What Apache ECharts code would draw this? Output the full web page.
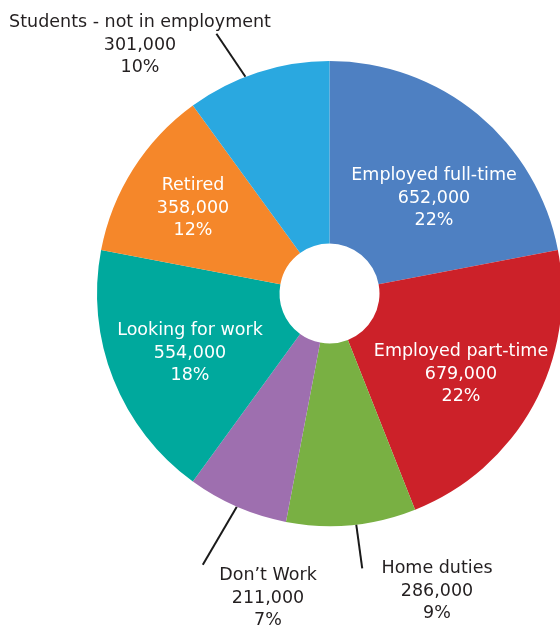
<!DOCTYPE html>
<html>
<head>
<meta charset="utf-8">
<script src="https://cdn.jsdelivr.net/npm/echarts@6/dist/echarts.min.js"></script>
<style>
  html, body { margin: 0; padding: 0; background: #ffffff; }
  #chart { width: 560px; height: 628px; }
</style>
</head>
<body>
<div id="chart"></div>
<script>
// Population by labour force status
const categories = [
  'Employed full-time',
  'Employed part-time',
  'Home duties',
  'Don\u2019t Work',
  'Looking for work',
  'Retired',
  'Students - not in employment'
];
const counts = [652000, 679000, 286000, 211000, 554000, 358000, 301000];
// Share of the total (%), which sets each slice's angle
const percents = [22, 22, 9, 7, 18, 12, 10];

// Slice colours
const colors = ['#4E80C2', '#CC2129', '#79B043', '#9E6FAF', '#00A99D', '#F5872A', '#2AA8E0'];

// Ring geometry
const CENTER = [329.5, 293.5];
const RADIUS = [50, 232.5];

// Leader lines for labels placed outside the ring:
// angle on the rim (degrees clockwise from 12 o'clock) and the line's offset
const leaders = {
  2: { angle: 173.4, dx: 6, dy: 44 },
  3: { angle: 203.5, dx: -34, dy: 58 },
  6: { angle: 338.8, dx: -29, dy: -43 }
};
// Label centre positions
const labelPos = [
  [434, 198], [461, 374], [437, 591], [268, 598],
  [190, 353], [193, 208], [140, 45]
];

function leaderPoints(i) {
  const l = leaders[i];
  const a = l.angle * Math.PI / 180;
  const x0 = CENTER[0] + RADIUS[1] * Math.sin(a);
  const y0 = CENTER[1] - RADIUS[1] * Math.cos(a);
  return [[x0, y0], [x0 + l.dx, y0 + l.dy], [x0 + l.dx, y0 + l.dy]];
}

const chart = echarts.init(document.getElementById('chart'));

const data = categories.map((name, i) => {
  const isOut = leaders[i] !== undefined;
  return {
    name: name,
    value: percents[i],
    count: counts[i],
    itemStyle: { color: colors[i] },
    label: {
      position: isOut ? 'outside' : 'inside',
      color: isOut ? '#231F20' : '#FFFFFF'
    },
    labelLine: {
      show: isOut,
      length: 40,
      length2: 0,
      smooth: false,
      lineStyle: { color: '#1A1A1A', width: 2 }
    }
  };
});

chart.setOption({
  animation: false,
  series: [{
    type: 'pie',
    center: CENTER,
    radius: RADIUS,
    startAngle: 90,
    clockwise: true,
    avoidLabelOverlap: false,
    data: data,
    label: {
      show: true,
      fontFamily: 'DejaVu Sans',
      fontSize: 17.5,
      lineHeight: 22.5,
      align: 'center',
      formatter: p => p.name + '\n' + counts[p.dataIndex].toLocaleString('en-US') + '\n' + p.value + '%'
    },
    labelLayout: params => {
      const i = params.dataIndex;
      const out = {
        x: labelPos[i][0],
        y: labelPos[i][1],
        align: 'center',
        verticalAlign: 'middle'
      };
      if (leaders[i] !== undefined) {
        out.labelLinePoints = leaderPoints(i);
      }
      return out;
    },
    emphasis: { disabled: true }
  }]
});
</script>
</body>
</html>
